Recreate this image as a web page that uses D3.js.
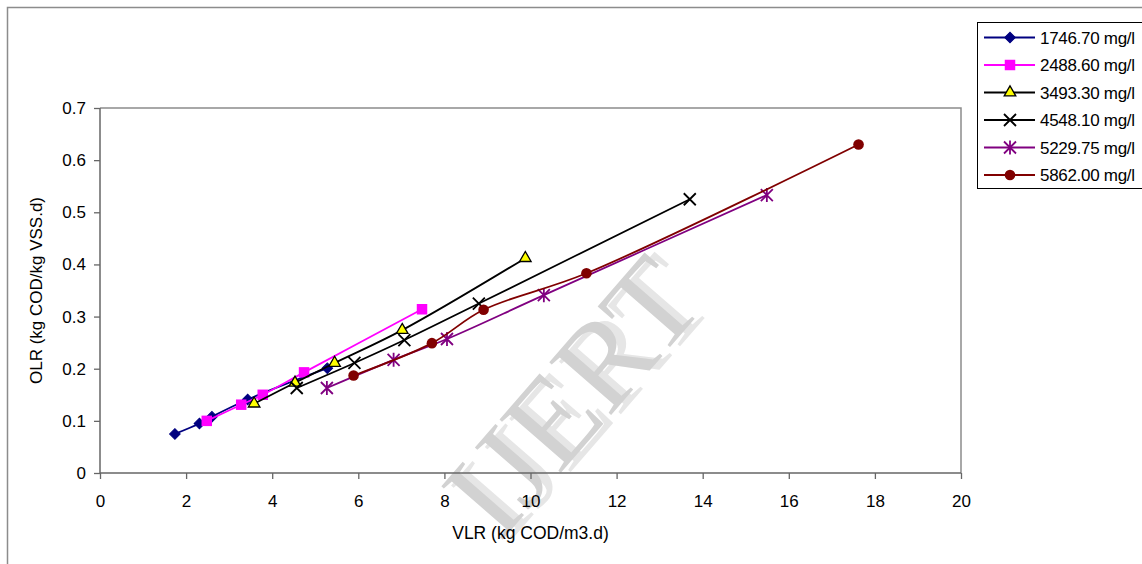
<!DOCTYPE html>
<html>
<head>
<meta charset="utf-8">
<script src="https://cdn.jsdelivr.net/npm/d3@7"></script>
<style>
  body { margin: 0; background: #fff; }
  text { font-family: "Liberation Sans", Arial, sans-serif; fill: #000; }
</style>
</head>
<body>
<svg id="chart"></svg>
<script>
// tick values
const xTicks = [0, 2, 4, 6, 8, 10, 12, 14, 16, 18, 20];
const yTicks = [0, 0.1, 0.2, 0.3, 0.4, 0.5, 0.6, 0.7];

// legend labels (influent COD)
const seriesLabels = ["1746.70 mg/l", "2488.60 mg/l", "3493.30 mg/l", "4548.10 mg/l", "5229.75 mg/l", "5862.00 mg/l"];

// VLR (kg COD/m3.d) and OLR (kg COD/kg VSS.d)
const vlr1746 = [1.74, 2.31, 2.60, 3.43, 5.28];
const olr1746 = [0.075, 0.095, 0.108, 0.141, 0.201];
const vlr2488 = [2.48, 3.28, 3.78, 4.74, 7.48];
const olr2488 = [0.100, 0.131, 0.150, 0.193, 0.314];
const vlr3493 = [3.58, 4.53, 5.45, 7.02, 9.88];
const olr3493 = [0.133, 0.173, 0.211, 0.274, 0.412];
const vlr4548 = [4.57, 5.91, 7.07, 8.80, 13.70];
const olr4548 = [0.163, 0.211, 0.255, 0.325, 0.525];
const vlr5229 = [5.27, 6.82, 8.06, 10.31, 15.49];
const olr5229 = [0.163, 0.217, 0.257, 0.341, 0.533];
const vlr5862 = [5.89, 7.71, 8.91, 11.30, 17.62];
const olr5862 = [0.187, 0.249, 0.313, 0.383, 0.630];

const width = 1142, height = 564;
const plot = {left: 100, right: 961, top: 108, bottom: 473};

// style per series
const styles = [
  {color: "#000080", marker: "diamond"},
  {color: "#ff00ff", marker: "square"},
  {color: "#000000", marker: "triangle"},
  {color: "#000000", marker: "times"},
  {color: "#800080", marker: "star"},
  {color: "#800000", marker: "circle"}
];

const seriesX = [vlr1746, vlr2488, vlr3493, vlr4548, vlr5229, vlr5862];
const seriesY = [olr1746, olr2488, olr3493, olr4548, olr5229, olr5862];
const series = seriesLabels.map((name, i) => ({
  name: name,
  style: styles[i],
  points: seriesX[i].map((v, j) => ({x: v, y: seriesY[i][j]}))
}));

const svg = d3.select("#chart").attr("width", width).attr("height", height);

// outer chart frame (cut off at right and bottom)
svg.append("path")
  .attr("d", `M7.5,${height}V7.5H${width}`)
  .attr("fill", "none").attr("stroke", "#8c8c8c").attr("stroke-width", 1.5);

const x = d3.scaleLinear().domain([0, 20]).range([plot.left, plot.right]);
const y = d3.scaleLinear().domain([0, 0.7]).range([plot.bottom, plot.top]);

// plot area border (top + right)
svg.append("path")
  .attr("d", `M${plot.left},${plot.top}H${plot.right}V${plot.bottom}`)
  .attr("fill", "none").attr("stroke", "#8c8c8c").attr("stroke-width", 1.5);

// watermark
const wm = svg.append("g").attr("transform", "translate(582,405) rotate(-49)");
wm.append("text").attr("x", 7).attr("y", 7)
  .attr("text-anchor", "middle").attr("dominant-baseline", "middle")
  .style("font-family", "'Liberation Serif', serif").style("font-size", "124px")
  .style("fill", "#e6e6e6").text("IJERT");
wm.append("text")
  .attr("text-anchor", "middle").attr("dominant-baseline", "middle")
  .style("font-family", "'Liberation Serif', serif").style("font-size", "124px")
  .style("fill", "#d2d2d2").text("IJERT");

// axes
const xAxis = d3.axisBottom(x).tickValues(xTicks).tickSize(6).tickPadding(16).tickFormat(d3.format("d"));
const yAxis = d3.axisLeft(y).tickValues(yTicks).tickSize(6).tickPadding(8).tickFormat(d => d === 0 ? "0" : d3.format(".1f")(d));

const gx = svg.append("g").attr("transform", `translate(0,${plot.bottom})`).call(xAxis);
const gy = svg.append("g").attr("transform", `translate(${plot.left},0)`).call(yAxis);
[gx, gy].forEach(g => {
  g.select(".domain").attr("stroke", "#666").attr("stroke-width", 1.5);
  g.selectAll(".tick line").attr("stroke", "#666").attr("stroke-width", 1.3);
  g.selectAll(".tick text").style("font-size", "17px").style("font-family", "'Liberation Sans', Arial, sans-serif").attr("fill", "#000");
});
// domain path without outer ticks
gx.select(".domain").attr("d", `M${plot.left},0H${plot.right}`);
gy.select(".domain").attr("d", `M0,${plot.bottom}V${plot.top}`);

// axis titles
svg.append("text")
  .attr("x", x(10)).attr("y", 539)
  .attr("text-anchor", "middle").style("font-size", "17.5px")
  .text("VLR (kg COD/m3.d)");
svg.append("text")
  .attr("transform", `translate(42,${(plot.top + plot.bottom) / 2}) rotate(-90)`)
  .attr("text-anchor", "middle").style("font-size", "17px")
  .text("OLR (kg COD/kg VSS.d)");

// marker drawing
function drawMarker(sel, type, color) {
  if (type === "diamond") {
    sel.append("path").attr("d", d3.symbol(d3.symbolSquare, 56)()).attr("transform", "rotate(45)")
      .attr("fill", color).attr("stroke", color).attr("stroke-width", 1);
  } else if (type === "square") {
    sel.append("path").attr("d", d3.symbol(d3.symbolSquare, 110)())
      .attr("fill", color);
  } else if (type === "triangle") {
    sel.append("path").attr("d", d3.symbol(d3.symbolTriangle, 58)())
      .attr("fill", "#ffff00").attr("stroke", "#000").attr("stroke-width", 1.3);
  } else if (type === "times") {
    const s = 6;
    sel.append("path").attr("d", `M${-s},${-s}L${s},${s}M${-s},${s}L${s},${-s}`)
      .attr("fill", "none").attr("stroke", color).attr("stroke-width", 1.8);
  } else if (type === "star") {
    const s = 6;
    sel.append("path").attr("d", `M${-s},${-s}L${s},${s}M${-s},${s}L${s},${-s}M0,${-s - 1}L0,${s + 1}`)
      .attr("fill", "none").attr("stroke", color).attr("stroke-width", 1.8);
  } else if (type === "circle") {
    sel.append("circle").attr("r", 5.3).attr("fill", color);
  }
}

// lines (Excel-style smoothed)
const line = d3.line()
  .x(d => x(d.x))
  .y(d => y(d.y))
  .curve(d3.curveCatmullRom.alpha(0.5));

const gs = svg.append("g").selectAll("g.series")
  .data(series).enter().append("g").attr("class", "series");

gs.append("path")
  .attr("d", d => line(d.points))
  .attr("fill", "none")
  .attr("stroke", d => d.style.color)
  .attr("stroke-width", 1.8);

gs.each(function(d) {
  const g = d3.select(this);
  d.points.forEach(p => {
    const m = g.append("g").attr("transform", `translate(${x(p.x)},${y(p.y)})`);
    drawMarker(m, d.style.marker, d.style.color);
  });
});

// legend
const legend = svg.append("g");
legend.append("rect")
  .attr("x", 977.5).attr("y", 22.5).attr("width", 180).attr("height", 166)
  .attr("fill", "#fff").attr("stroke", "#000").attr("stroke-width", 1);

const rowY = d3.scalePoint().domain(seriesLabels).range([37.5, 175]);
const items = legend.selectAll("g.item").data(series).enter().append("g")
  .attr("class", "item")
  .attr("transform", d => `translate(0,${rowY(d.name)})`);
items.append("line")
  .attr("x1", 984).attr("x2", 1035).attr("y1", 0).attr("y2", 0)
  .attr("stroke", d => d.style.color).attr("stroke-width", 1.8);
items.each(function(d) {
  const m = d3.select(this).append("g").attr("transform", "translate(1010,0)");
  drawMarker(m, d.style.marker, d.style.color);
});
items.append("text")
  .attr("x", 1040).attr("y", 6)
  .style("font-size", "17px").style("letter-spacing", "-0.3px")
  .text(d => d.name);
</script>
</body>
</html>
